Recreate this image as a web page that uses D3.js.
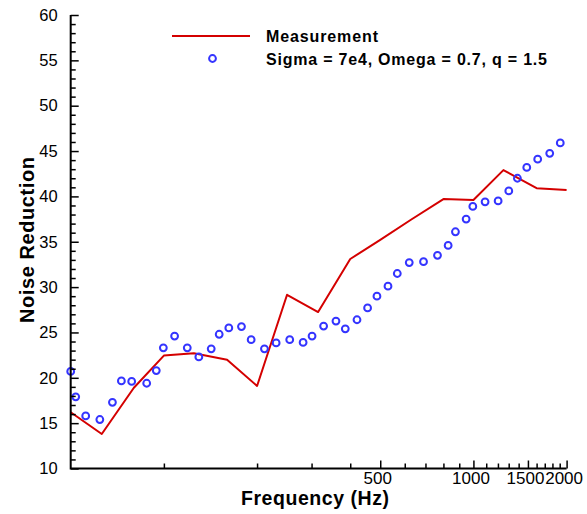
<!DOCTYPE html>
<html lang="en">
<head>
  <meta charset="UTF-8">
  <title>Noise Reduction</title>
  <script src="https://cdn.jsdelivr.net/npm/d3@7"></script>
  <style type="text/css">
    body {
        margin: 0;
        padding: 0;
        background: #fff;
        overflow: hidden;
    }
    text {
        font-family: "Liberation Sans", Arial, sans-serif;
    }
  </style>
</head>
<body>
<div id="chart"></div>
<script>
// measured data (third-octave bands)
var measFreq = [50, 63, 80, 100, 125, 160, 200, 250, 315, 400, 500, 630, 800, 1000, 1250, 1600, 2000];
var measValue = [16.2, 13.8, 18.9, 22.45, 22.7, 22.0, 19.1, 29.15, 27.25, 33.1, 35.2, 37.45, 39.7, 39.6, 42.9, 40.9, 40.7];

// model prediction
var modelFreq = [50, 51.9, 55.9, 62.1, 68.2, 72.9, 78.7, 88, 94.5, 99.6, 108.3, 119, 129.7, 142.2, 150.9,
                 162.1, 178.1, 191.4, 211.3, 230.5, 255, 281.7, 301.1, 328.1, 359.7, 385.5, 420.6, 455.1,
                 487.9, 529.7, 567.6, 620.4, 689.9, 765.5, 828.6, 874.8, 947.2, 995.5, 1090.6, 1201.8,
                 1301, 1387, 1487, 1613, 1764, 1908];
var modelValue = [20.7, 17.9, 15.8, 15.4, 17.3, 19.65, 19.6, 19.4, 20.8, 23.3, 24.6, 23.3, 22.3, 23.2, 24.8,
                  25.5, 25.65, 24.2, 23.2, 23.85, 24.2, 23.9, 24.6, 25.7, 26.25, 25.4, 26.4, 27.7,
                  29.0, 30.1, 31.5, 32.7, 32.8, 33.5, 34.6, 36.1, 37.5, 38.9, 39.4, 39.5,
                  40.6, 42.0, 43.2, 44.1, 44.75, 45.9];

var xMajorTicks = [500, 1000, 1500, 2000];
var xMinorTicks = [100, 200, 300, 400, 600, 700, 800, 900, 1100, 1200, 1300, 1400, 1600, 1700, 1800, 1900];
var yMajorTicks = [10, 15, 20, 25, 30, 35, 40, 45, 50, 55, 60];
var yMinorTicks = d3.range(10, 61, 1).filter(function(d) { return d % 5 !== 0; });

var legendLabels = ["Measurement", "Sigma = 7e4, Omega = 0.7, q = 1.5"];

var W = 587, H = 514;
var x0 = 70.7, x1 = 566.6, y0 = 468.5, y1 = 15;
var red = "#d40000", blue = "#3434ff";

var svg = d3.select("#chart").append("svg")
            .attr("width", W)
            .attr("height", H);

var x = d3.scaleLog().domain([50, 2000]).range([x0, x1]);
var y = d3.scaleLinear().domain([10, 60]).range([y0, y1]);

// measurement line
var line = d3.line()
             .x(function(d, i) { return x(measFreq[i]); })
             .y(function(d) { return y(d); });

svg.append("path")
   .datum(measValue)
   .attr("fill", "none")
   .attr("stroke", red)
   .attr("stroke-width", 2)
   .attr("stroke-linejoin", "round")
   .attr("d", line);

// model symbols
svg.selectAll("circle.model")
   .data(modelValue)
   .enter()
   .append("circle")
   .attr("class", "model")
   .attr("cx", function(d, i) { return x(modelFreq[i]); })
   .attr("cy", function(d) { return y(d); })
   .attr("r", 3.4)
   .attr("fill", "none")
   .attr("stroke", blue)
   .attr("stroke-width", 2);

// axes, ticks drawn inward
var xAxis = svg.append("g").attr("transform", "translate(0," + y0 + ")");
xAxis.call(d3.axisBottom(x).tickValues(xMinorTicks).tickSize(-5).tickFormat(""));
xAxis.append("g").call(d3.axisBottom(x).tickValues(xMajorTicks).tickSize(-8).tickFormat(d3.format("d")));
xAxis.selectAll(".domain").remove();
xAxis.selectAll("line").attr("stroke", "#000").attr("stroke-width", 1.5);
xAxis.selectAll("text")
     .attr("y", 3)
     .attr("dx", "-3")
     .attr("dy", "0.71em")
     .attr("fill", "#000")
     .style("font-size", "17px");

var yAxis = svg.append("g").attr("transform", "translate(" + x0 + ",0)");
yAxis.call(d3.axisLeft(y).tickValues(yMinorTicks).tickSize(-5).tickFormat(""));
yAxis.append("g").call(d3.axisLeft(y).tickValues(yMajorTicks).tickSize(-8));
yAxis.selectAll(".domain").remove();
yAxis.selectAll("line").attr("stroke", "#000").attr("stroke-width", 1.5);
yAxis.selectAll("text")
     .attr("x", -13)
     .attr("fill", "#000")
     .style("font-size", "16.5px");

svg.append("path")
   .attr("fill", "none")
   .attr("stroke", "#000")
   .attr("stroke-width", 2)
   .attr("d", "M" + x0 + "," + y1 + "V" + y0 + "H" + x1);

// axis titles
svg.append("text")
   .attr("x", 315)
   .attr("y", 505)
   .attr("text-anchor", "middle")
   .attr("font-weight", "bold")
   .attr("font-size", 19.5)
   .attr("textLength", 148)
   .text("Frequency (Hz)");

svg.append("text")
   .attr("transform", "translate(34,240) rotate(-90)")
   .attr("text-anchor", "middle")
   .attr("font-weight", "bold")
   .attr("font-size", 20)
   .attr("textLength", 166)
   .text("Noise Reduction");

// legend
var legend = svg.append("g");
legend.append("line")
      .attr("x1", 172).attr("x2", 250)
      .attr("y1", 36).attr("y2", 36)
      .attr("stroke", red)
      .attr("stroke-width", 2);
legend.append("circle")
      .attr("cx", 212.5).attr("cy", 58.5)
      .attr("r", 3.4)
      .attr("fill", "none")
      .attr("stroke", blue)
      .attr("stroke-width", 2);
legend.selectAll("text")
      .data(legendLabels)
      .enter()
      .append("text")
      .attr("x", 266)
      .attr("y", function(d, i) { return 42 + i * 22.5; })
      .attr("font-weight", "bold")
      .attr("font-size", 16)
      .attr("textLength", function(d, i) { return i === 0 ? 112 : 281; })
      .text(function(d) { return d; });
</script>
</body>
</html>
